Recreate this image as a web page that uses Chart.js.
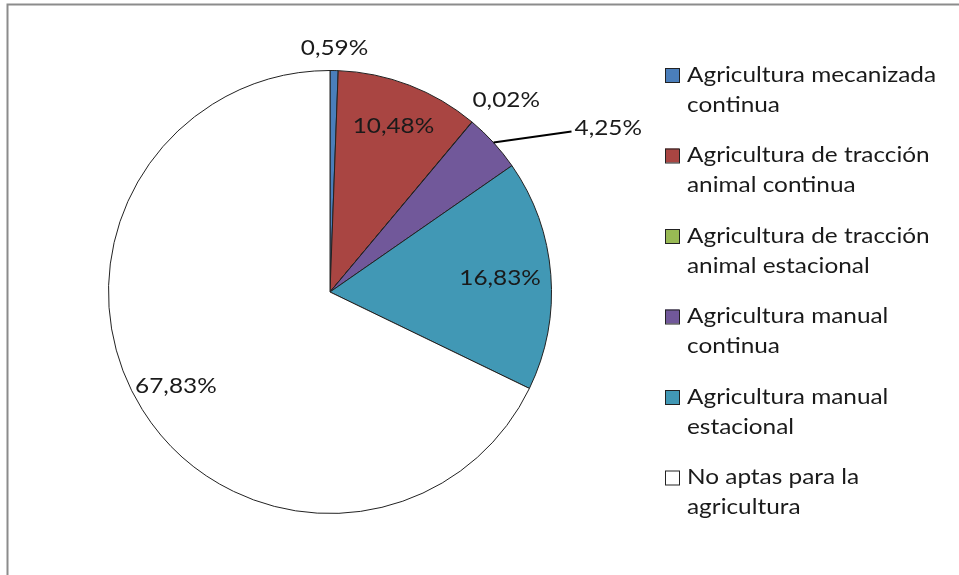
<!DOCTYPE html>
<html><head><meta charset="utf-8">
<script src="https://cdn.jsdelivr.net/npm/chart.js@4.4.0/dist/chart.umd.min.js"></script>
<style>html,body{margin:0;padding:0;background:#fff}canvas{display:block}</style>
</head><body>
<canvas id="c" width="959" height="575"></canvas>
<script>
const categories = [
  ["Agricultura mecanizada", "continua"],
  ["Agricultura de tracción", "animal continua"],
  ["Agricultura de tracción", "animal estacional"],
  ["Agricultura manual", "continua"],
  ["Agricultura manual", "estacional"],
  ["No aptas para la", "agricultura"]
];
const values = [0.59, 10.48, 0.02, 4.25, 16.83, 67.83];
const valueLabels = ["0,59%", "10,48%", "0,02%", "4,25%", "16,83%", "67,83%"];
const colors = ["#4A7EBB", "#A94542", "#98B954", "#71589A", "#4198B5", "#FFFFFF"];

const FONT = "Lato, 'Open Sans', sans-serif";
const SX = 1.16; // horizontal stretch of the text, as in the reference
// label placement: [radius factor, dx, dy, leader]
const labelPlace = [
  [1.10, 0, 0, false],
  [0.80, 0, 0, false],
  [1.17, 10, 7, false],
  [1.00, 0, 0, true],
  [0.77, 0, 0, false],
  [0.80, -4, 0, false]
];

function text(ctx, s, x, y, align) {
  const w = ctx.measureText(s).width * SX;
  let x0 = x;
  if (align === 'center') x0 = x - w / 2;
  ctx.save();
  ctx.textAlign = 'left';
  ctx.translate(x0, y);
  ctx.scale(SX, 1);
  ctx.fillText(s, 0, 0);
  ctx.restore();
}

const deco = {
  id: 'deco',
  beforeDraw(chart) {
    const ctx = chart.ctx;
    ctx.save();
    ctx.fillStyle = '#fff';
    ctx.fillRect(0, 0, chart.width, chart.height);
    ctx.strokeStyle = '#8c8c8c';
    ctx.lineWidth = 2;
    ctx.beginPath();
    ctx.moveTo(959, 4.5); ctx.lineTo(7.5, 4.5); ctx.lineTo(7.5, 575);
    ctx.stroke();
    ctx.restore();
  },
  afterDraw(chart) {
    const ctx = chart.ctx;
    const meta = chart.getDatasetMeta(0);
    ctx.save();
    ctx.font = "21px " + FONT;
    ctx.fillStyle = '#1a1a1a';
    ctx.textBaseline = 'middle';
    meta.data.forEach((arc, i) => {
      const p = arc.getProps(['x','y','startAngle','endAngle','outerRadius'], true);
      const mid = (p.startAngle + p.endAngle) / 2;
      const [f, dx, dy, leader] = labelPlace[i];
      if (leader) {
        const ax = p.x + Math.cos(mid) * p.outerRadius;
        const ay = p.y + Math.sin(mid) * p.outerRadius;
        const ex = ax + 78, ey = ay - 11;
        ctx.strokeStyle = '#000';
        ctx.lineWidth = 2;
        ctx.beginPath(); ctx.moveTo(ax, ay); ctx.lineTo(ex, ey); ctx.stroke();
        ctx.fillStyle = '#1a1a1a';
        text(ctx, valueLabels[i], ex + 3, ey - 3, 'left');
      } else {
        const lx = p.x + Math.cos(mid) * p.outerRadius * f + dx;
        const ly = p.y + Math.sin(mid) * p.outerRadius * f + dy;
        ctx.fillStyle = '#1a1a1a';
        text(ctx, valueLabels[i], lx, ly, 'center');
      }
    });
    // legend
    const lx = 665, top0 = 68, step = 80.5, lineH = 30;
    categories.forEach((lines, i) => {
      const t = top0 + i * step;
      ctx.fillStyle = colors[i];
      ctx.fillRect(lx, t, 14, 14);
      ctx.strokeStyle = '#222';
      ctx.lineWidth = 1;
      ctx.strokeRect(lx + 0.5, t + 0.5, 14, 14);
      ctx.fillStyle = '#1a1a1a';
      lines.forEach((s, j) => text(ctx, s, 687, t + 7 + j * lineH, 'left'));
    });
    ctx.restore();
  }
};

new Chart(document.getElementById('c'), {
  type: 'pie',
  data: {
    labels: categories.map(l => l.join(' ')),
    datasets: [{
      data: values,
      backgroundColor: colors,
      borderColor: '#222',
      borderWidth: 1
    }]
  },
  options: {
    responsive: false,
    animation: false,
    layout: { padding: { top: 70, bottom: 61, left: 108, right: 407 } },
    plugins: { legend: { display: false }, tooltip: { enabled: false } }
  },
  plugins: [deco]
});
</script>
</body></html>
